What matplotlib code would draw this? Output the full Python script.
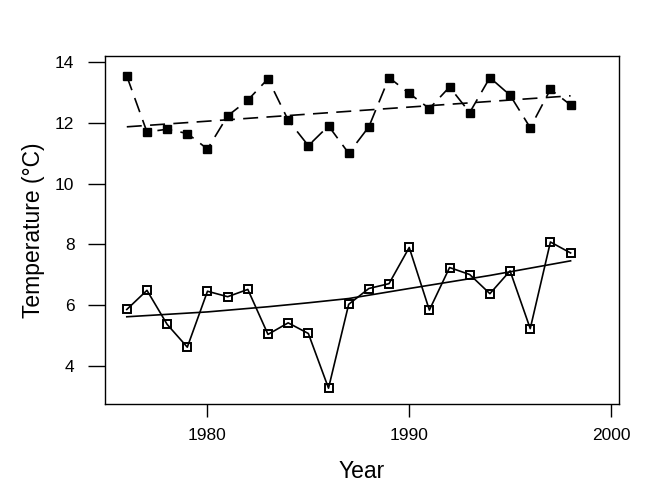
import matplotlib
matplotlib.use("Agg")
import matplotlib.pyplot as plt

plt.rcParams['font.family'] = ['Liberation Sans', 'DejaVu Sans']

# Datos
years = list(range(1976, 1999))
temp_high = [13.54, 11.70, 11.79, 11.65, 11.14, 12.23, 12.75, 13.45, 12.09, 11.25,
             11.90, 11.00, 11.87, 13.49, 12.97, 12.47, 13.18, 12.34, 13.49, 12.91,
             11.84, 13.10, 12.59]
temp_low = [5.86, 6.49, 5.37, 4.62, 6.46, 6.28, 6.52, 5.04, 5.42, 5.07,
            3.27, 6.03, 6.55, 6.71, 7.90, 5.84, 7.24, 7.01, 6.38, 7.13,
            5.23, 8.08, 7.72]

# Lineas de tendencia (puntos leidos)
trend_high_x = [1976, 1998]
trend_high_y = [11.87, 12.89]
trend_low_x = [1976, 1980, 1983, 1985, 1987, 1990, 1994, 1998]
trend_low_y = [5.62, 5.78, 5.95, 6.08, 6.22, 6.55, 6.98, 7.46]

fig = plt.figure(figsize=(6.69, 5.0), dpi=100)
ax = fig.add_axes([105 / 669, 1 - 404 / 500, (619 - 105) / 669, (404 - 56) / 500])

dash = (9, 5)
ax.plot(years, temp_high, color='k', lw=1.2, dashes=dash, marker='s', ms=5.8,
        mfc='k', mec='k')
ax.plot(trend_high_x, trend_high_y, color='k', lw=1.2, dashes=dash)

ax.plot(years, temp_low, color='k', lw=1.2, marker='s', ms=5.8,
        mfc='none', mec='k', mew=1.4)
ax.plot(trend_low_x, trend_low_y, color='k', lw=1.2)

ax.set_xlim(1974.92, 2000.4)
ax.set_ylim(2.75, 14.2)
ax.set_xticks([1980, 1990, 2000])
ax.set_yticks([4, 6, 8, 10, 12, 14])

for s in ax.spines.values():
    s.set_linewidth(1.0)
ax.tick_params(axis='y', length=12, width=1.0, pad=10, labelsize=12.5)
ax.tick_params(axis='x', length=9.5, width=1.0, pad=8, labelsize=12.5)

ax.set_xlabel('Year', fontsize=16.5, labelpad=12)
ax.set_ylabel('Temperature (°C)', fontsize=16.5, labelpad=7)

fig.savefig('out.png', dpi=100)
